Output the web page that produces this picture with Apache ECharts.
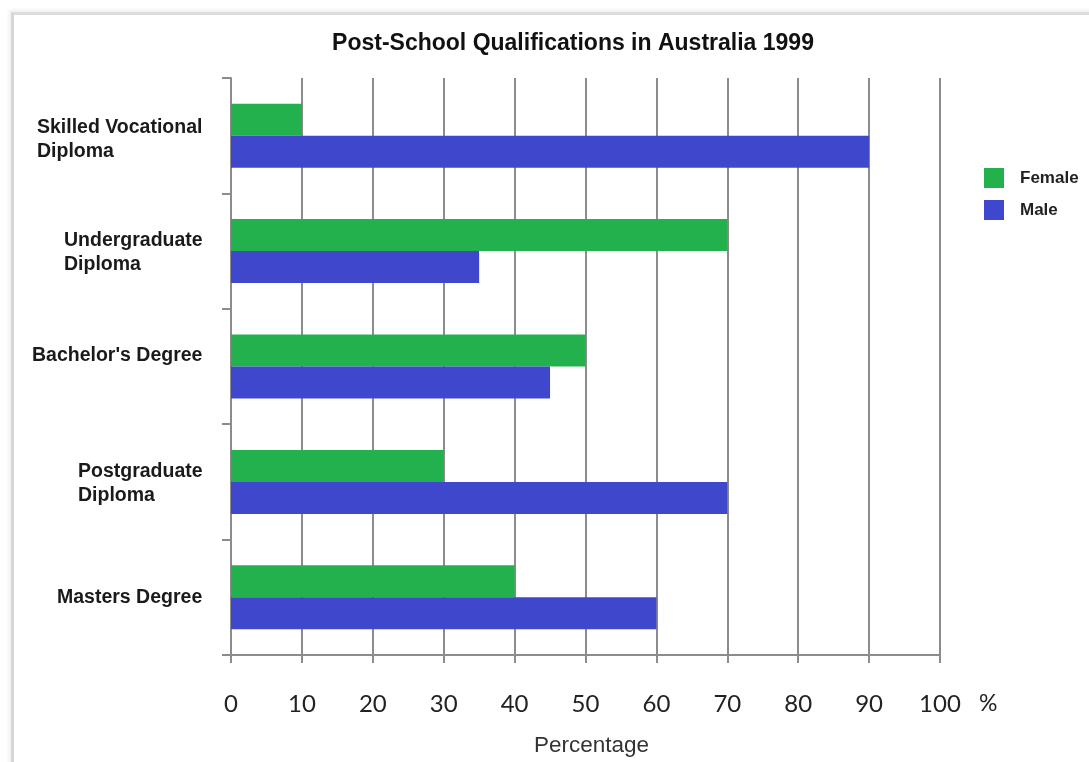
<!DOCTYPE html>
<html>
<head>
<meta charset="utf-8">
<script src="https://cdn.jsdelivr.net/npm/echarts@6/dist/echarts.min.js"></script>
<style>
html,body{margin:0;padding:0;background:#fff;}
#frame{position:absolute;left:11px;top:12px;width:1200px;height:900px;border-left:3px solid #d6d6d6;border-top:3px solid #dcdcdc;box-shadow:-2px -2px 4px #eee;}
#chart{position:absolute;left:0;top:0;width:1089px;height:762px;}
</style>
</head>
<body>
<div id="frame"></div>
<div id="chart"></div>
<script>
const categories = [
  ["Skilled Vocational", "Diploma"],
  ["Undergraduate", "Diploma"],
  ["Bachelor's Degree"],
  ["Postgraduate", "Diploma"],
  ["Masters Degree"]
];
const seriesNames = ["Female", "Male"];
const femaleValues = [10, 70, 50, 30, 40];
const maleValues = [90, 35, 45, 70, 60];
const xTicks = [0, 10, 20, 30, 40, 50, 60, 70, 80, 90, 100];

const LBL_SIZE = 19.5;
const labelFont = 'bold ' + LBL_SIZE + 'px "Liberation Sans", Arial, sans-serif';
const ctx = document.createElement('canvas').getContext('2d');
ctx.font = labelFont;
// vertical nudges (padding of the first line) of the category labels as seen in the reference
const firstLinePad = [[8, 0, 0, 0], [4, 0, 0, 0], [0, 0, 22, 0], [4, 0, 0, 0], [0, 0, 0, 0]];
const rich = {};
categories.forEach((lines, i) => {
  const w = Math.ceil(Math.max.apply(null, lines.map(l => ctx.measureText(l).width)));
  const base = {
    width: w, align: 'left', fontSize: LBL_SIZE, fontWeight: 'bold',
    fontFamily: '"Liberation Sans", Arial, sans-serif', color: '#1a1a1a', lineHeight: 24
  };
  rich['a' + i] = Object.assign({}, base, {
    padding: firstLinePad[i], lineHeight: 24 + firstLinePad[i][0] + firstLinePad[i][2]
  });
  rich['c' + i] = base;
});
const catKeys = categories.map((l, i) => 'k' + i);

const chart = echarts.init(document.getElementById('chart'));
chart.setOption({
  animation: false,
  backgroundColor: 'transparent',
  title: {
    text: 'Post-School Qualifications in Australia 1999',
    left: 568, top: 27, textAlign: 'center',
    textStyle: {fontFamily: '"Liberation Sans", Arial, sans-serif', fontSize: 23, fontWeight: 'bold', color: '#111'}
  },
  legend: {
    data: seriesNames,
    orient: 'vertical', left: 979, top: 163,
    itemWidth: 20, itemHeight: 20, itemGap: 12, icon: 'rect',
    textStyle: {fontFamily: '"Liberation Sans", Arial, sans-serif', fontSize: 17, fontWeight: 'bold', color: '#222', padding: [0, 0, 0, 11]}
  },
  grid: {left: 231, right: 149, top: 78, bottom: 107, containLabel: false},
  xAxis: [{
    type: 'value', min: xTicks[0], max: xTicks[xTicks.length - 1], interval: xTicks[1] - xTicks[0],
    name: 'Percentage', nameLocation: 'middle', nameGap: 79,
    nameTextStyle: {fontFamily: '"Liberation Sans", Arial, sans-serif', fontSize: 22.5, color: '#333', padding: [0, 0, 0, 12]},
    axisLine: {show: true, lineStyle: {color: '#8c8c8c', width: 2}},
    axisTick: {show: true, length: 8, lineStyle: {color: '#8c8c8c', width: 2}},
    axisLabel: {margin: 37, fontFamily: 'Lato, sans-serif', fontSize: 24, color: '#222'},
    splitLine: {show: true, lineStyle: {color: '#8c8c8c', width: 2}}
  }, {
    type: 'value', min: xTicks[0], max: xTicks[xTicks.length - 1], position: 'bottom', offset: 49,
    name: '%', nameLocation: 'end', nameGap: 39,
    nameTextStyle: {fontFamily: 'Lato, sans-serif', fontSize: 23, color: '#222', verticalAlign: 'middle'},
    axisLine: {show: false}, axisTick: {show: false}, axisLabel: {show: false}, splitLine: {show: false}
  }],
  yAxis: {
    type: 'category', inverse: true, data: catKeys,
    axisLine: {show: true, lineStyle: {color: '#8c8c8c', width: 2}},
    axisTick: {show: true, length: 9, lineStyle: {color: '#8c8c8c', width: 2}},
    axisLabel: {
      margin: 28, align: 'right',
      formatter: function (v) {
        const i = catKeys.indexOf(v);
        return categories[i].map((l, j) => '{' + (j === 0 ? 'a' : 'c') + i + '|' + l + '}').join('\n');
      },
      rich: rich
    },
    splitLine: {show: false}
  },
  series: [{
    name: seriesNames[0], type: 'bar', data: femaleValues, xAxisIndex: 0,
    barWidth: 32, barGap: '0%', itemStyle: {color: '#22b14c'}
  }, {
    name: seriesNames[1], type: 'bar', data: maleValues, xAxisIndex: 0,
    barWidth: 32, barGap: '0%', itemStyle: {color: '#3f48cc'}
  }]
});
</script>
</body>
</html>
